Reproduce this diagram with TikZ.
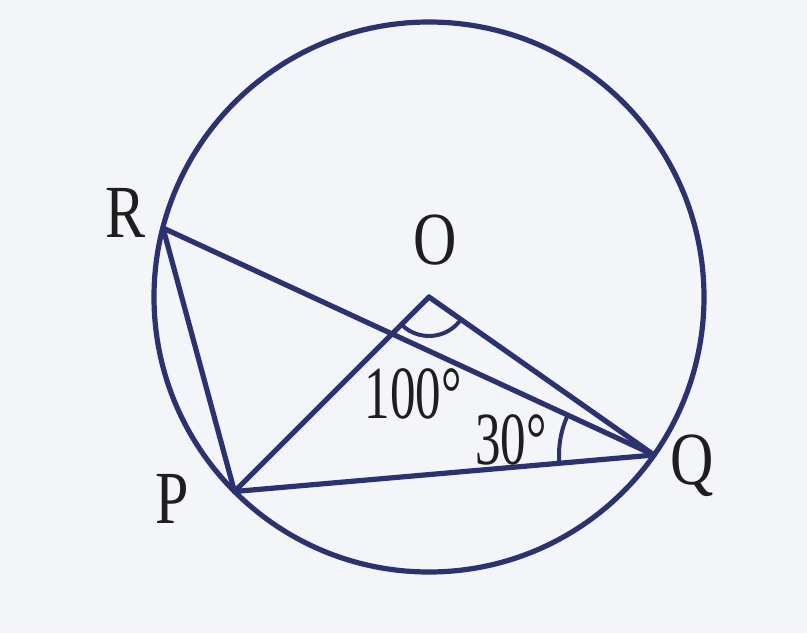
\documentclass[tikz,border=0pt]{standalone}
\usepackage{fontspec}
\setmainfont{Liberation Serif}
\usetikzlibrary{calc}
\definecolor{bgc}{RGB}{243,245,249}
\definecolor{inkblue}{RGB}{42,50,112}
\definecolor{txt}{RGB}{30,30,30}
\tikzset{
  geo/.style={draw=inkblue, line width=5.2pt, line join=round, line cap=round},
  lbl/.style={text=txt, inner sep=0pt, font=\fontsize{60}{60}\selectfont},
}
\newcommand{\tall}[1]{\scalebox{1}[1.25]{#1}}
\begin{document}
\begin{tikzpicture}[x=1pt,y=-1pt]
\useasboundingbox (0,0) rectangle (807,633);
\fill[bgc] (0,0) rectangle (807,633);
\coordinate (O) at (429,297);
\coordinate (P) at (234.5,491.5);
\coordinate (Q) at (654,455);
\coordinate (R) at (163,228);
\draw[geo] (O) circle[radius=275];
\draw[geo] (R) -- (P);
\draw[geo] (R) -- (Q);
\draw[geo] (O) -- (P);
\draw[geo] (O) -- (Q);
\draw[geo] (P) -- (Q);
\draw[geo, line width=4pt] (O) ++(135:39) arc[start angle=135, end angle=35, radius=39];
\draw[geo, line width=4pt] (Q) ++(175:95) arc[start angle=175, end angle=205, radius=95];
\node[lbl] (lR) at (126,213) {\tall{R}};
\node[lbl] (lO) at (435,240) {\tall{O}};
\node[lbl] (lP) at (172,499) {\tall{P}};
\node[lbl] (lQ) at (692,466) {\tall{Q}};
\node[lbl] (l100) at (413,394) {\tall{\scalebox{0.85}[1]{100°}}};
\node[lbl] (l30) at (511,440) {\tall{\scalebox{0.85}[1]{30°}}};
\end{tikzpicture}
\end{document}
